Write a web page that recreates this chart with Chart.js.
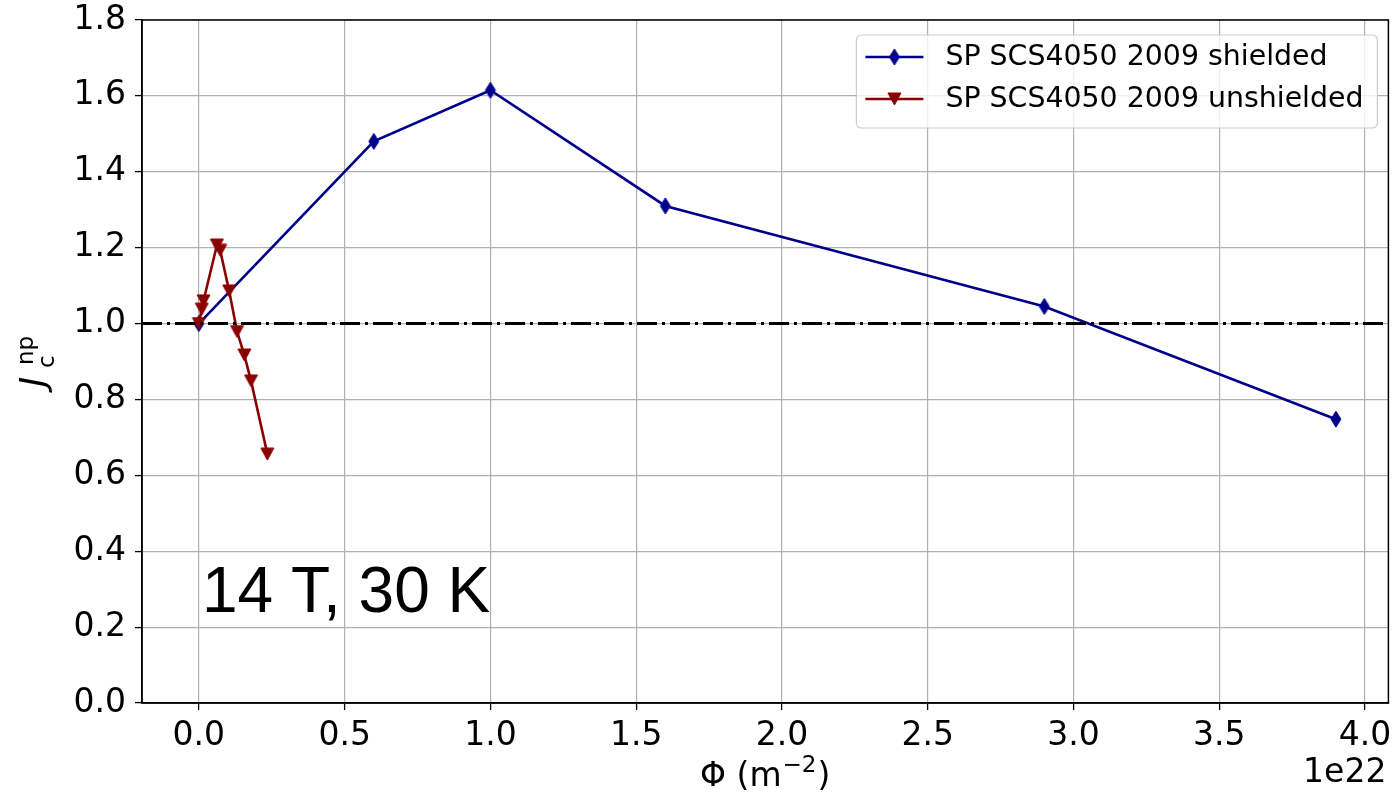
<!DOCTYPE html>
<html lang="en">
<head>
    <meta charset="UTF-8">
    <title>Jc np vs fluence, 14 T, 30 K</title>
    <script src="https://cdn.jsdelivr.net/npm/chart.js"></script>
    <style>
        html, body {
            margin: 0;
            padding: 0;
            background: #fff;
        }
        #wrap {
            width: 1397px;
            height: 800px;
        }
    </style>
</head>
<body>
    <div id="wrap">
        <canvas id="jcChart" width="1397" height="800"></canvas>
    </div>

    <script>
        // fluence in units of 1e22 m^-2, Jc normalised to the unirradiated value
        const shieldedPhi = [0, 0.6, 1.0, 1.6, 2.9, 3.9];
        const shieldedJc = [1.0, 1.48, 1.615, 1.31, 1.045, 0.748];

        const unshieldedPhi = [0, 0.010, 0.016, 0.062, 0.073, 0.104, 0.131, 0.156, 0.179, 0.235];
        const unshieldedJc = [1.0, 1.038, 1.06, 1.207, 1.193, 1.086, 0.979, 0.917, 0.849, 0.656];

        const seriesNames = ['SP SCS4050 2009 shielded', 'SP SCS4050 2009 unshielded'];

        const xTicks = [0, 0.5, 1.0, 1.5, 2.0, 2.5, 3.0, 3.5, 4.0];
        const yTicks = [0, 0.2, 0.4, 0.6, 0.8, 1.0, 1.2, 1.4, 1.6, 1.8];
        const xRange = [-0.195, 4.08];
        const refLevel = 1.0;

        const BLUE = '#00008b';
        const RED = '#8b0000';
        const FONT = "'DejaVu Sans', sans-serif";

        // matplotlib-like marker shapes
        function makeMarker(w, h, color, path) {
            const c = document.createElement('canvas');
            c.width = w;
            c.height = h;
            const g = c.getContext('2d');
            g.fillStyle = color;
            g.strokeStyle = color;
            g.lineWidth = 1;
            g.beginPath();
            path(g, w, h);
            g.closePath();
            g.fill();
            g.stroke();
            return c;
        }

        const thinDiamond = makeMarker(14, 18, BLUE, (g, w, h) => {
            g.moveTo(w / 2, 1);
            g.lineTo(w - 2, h / 2);
            g.lineTo(w / 2, h - 1);
            g.lineTo(2, h / 2);
        });

        const triangleDown = makeMarker(15, 14, RED, (g, w, h) => {
            g.moveTo(1, 1);
            g.lineTo(w - 1, 1);
            g.lineTo(w / 2, h - 1);
        });

        const toPoints = (xs, ys) => xs.map((x, i) => ({ x: x, y: ys[i] }));

        // frame, axis titles, offset text, annotation and legend
        const decorations = {
            id: 'decorations',
            afterDraw(chart) {
                const ctx = chart.ctx;
                const area = chart.chartArea;
                ctx.save();

                ctx.strokeStyle = '#000';
                ctx.lineWidth = 1.5;
                ctx.strokeRect(area.left, area.top, area.right - area.left, area.bottom - area.top);

                ctx.fillStyle = '#000';
                ctx.textBaseline = 'alphabetic';

                // x label: Φ (m^-2)
                const mainFont = '33px ' + FONT;
                const supFont = '23px ' + FONT;
                ctx.font = mainFont;
                const partA = 'Φ (m';
                const partC = ')';
                const wA = ctx.measureText(partA).width;
                const wC = ctx.measureText(partC).width;
                ctx.font = supFont;
                const wB = ctx.measureText('−2').width;
                const total = wA + wB + 2 + wC;
                let x0 = (area.left + area.right) / 2 - total / 2;
                const base = 786;
                ctx.textAlign = 'left';
                ctx.font = mainFont;
                ctx.fillText(partA, x0, base);
                ctx.font = supFont;
                ctx.fillText('−2', x0 + wA + 1, base - 14);
                ctx.font = mainFont;
                ctx.fillText(partC, x0 + wA + wB + 2, base);

                // offset text
                ctx.textAlign = 'right';
                ctx.fillText('1e22', area.right - 2, 782);

                // y label: J_c^np
                ctx.save();
                ctx.translate(45, 387);
                ctx.rotate(-Math.PI / 2);
                ctx.textAlign = 'left';
                ctx.font = 'italic 35px ' + FONT;
                ctx.fillText('J', 0, 0);
                ctx.font = supFont;
                ctx.fillText('c', 19, 9);
                ctx.fillText('np', 22, -12);
                ctx.restore();

                // condition annotation
                ctx.font = "64px 'Liberation Sans', Arial, sans-serif";
                ctx.textAlign = 'left';
                ctx.fillText('14 T, 30 K', 202, 612);

                // legend
                const lx = area.right - 532, ly = area.top + 15, lw = 521, lh = 93;
                ctx.fillStyle = 'rgba(255,255,255,0.8)';
                ctx.strokeStyle = '#cccccc';
                ctx.lineWidth = 1.2;
                ctx.beginPath();
                ctx.roundRect(lx, ly, lw, lh, 5);
                ctx.fill();
                ctx.stroke();

                const rows = [
                    { name: seriesNames[0], color: BLUE, marker: thinDiamond, y: ly + 22 },
                    { name: seriesNames[1], color: RED, marker: triangleDown, y: ly + 64 }
                ];
                rows.forEach(r => {
                    ctx.strokeStyle = r.color;
                    ctx.lineWidth = 2.5;
                    ctx.beginPath();
                    ctx.moveTo(lx + 9, r.y);
                    ctx.lineTo(lx + 67, r.y);
                    ctx.stroke();
                    ctx.drawImage(r.marker, lx + 38 - r.marker.width / 2, r.y - r.marker.height / 2);
                    ctx.fillStyle = '#000';
                    ctx.font = '28.4px ' + FONT;
                    ctx.textBaseline = 'middle';
                    ctx.fillText(r.name, lx + 89, r.y + 1);
                });

                ctx.restore();
            }
        };

        const config = {
            type: 'scatter',
            data: {
                datasets: [
                    {
                        label: 'reference',
                        data: [{ x: xRange[0], y: refLevel }, { x: xRange[1], y: refLevel }],
                        showLine: true,
                        borderColor: '#000',
                        borderWidth: 3,
                        borderDash: [20, 5, 3, 5],
                        pointRadius: 0,
                        order: 0
                    },
                    {
                        label: seriesNames[1],
                        data: toPoints(unshieldedPhi, unshieldedJc),
                        showLine: true,
                        borderColor: RED,
                        borderWidth: 2.6,
                        pointStyle: triangleDown,
                        pointRadius: 6,
                        order: 1
                    },
                    {
                        label: seriesNames[0],
                        data: toPoints(shieldedPhi, shieldedJc),
                        showLine: true,
                        borderColor: BLUE,
                        borderWidth: 2.6,
                        pointStyle: thinDiamond,
                        pointRadius: 6,
                        order: 2
                    }
                ]
            },
            options: {
                responsive: false,
                animation: false,
                devicePixelRatio: 1,
                layout: {
                    padding: { top: 20, right: 8, left: 0, bottom: 0 }
                },
                plugins: {
                    legend: { display: false },
                    tooltip: { enabled: false }
                },
                scales: {
                    x: {
                        type: 'linear',
                        min: xRange[0],
                        max: xRange[1],
                        afterBuildTicks: scale => {
                            scale.ticks = xTicks.map(v => ({ value: v }));
                        },
                        afterFit: scale => {
                            scale.height = 97;
                            scale.paddingLeft = 0;
                            scale.paddingRight = 0;
                        },
                        ticks: {
                            color: '#000',
                            padding: 7,
                            maxRotation: 0,
                            font: { family: FONT, size: 33 },
                            callback: v => v.toFixed(1)
                        },
                        grid: {
                            color: '#b0b0b0',
                            lineWidth: 1.2,
                            tickColor: '#000',
                            tickLength: 7,
                            tickWidth: 1.3
                        },
                        border: { color: '#000', width: 1.5 }
                    },
                    y: {
                        type: 'linear',
                        min: 0,
                        max: 1.8,
                        afterBuildTicks: scale => {
                            scale.ticks = yTicks.map(v => ({ value: v }));
                        },
                        afterFit: scale => {
                            scale.width = 142;
                            scale.paddingTop = 0;
                            scale.paddingBottom = 0;
                        },
                        ticks: {
                            color: '#000',
                            padding: 9,
                            font: { family: FONT, size: 33 },
                            callback: v => v.toFixed(1)
                        },
                        grid: {
                            color: '#b0b0b0',
                            lineWidth: 1.2,
                            tickColor: '#000',
                            tickLength: 7,
                            tickWidth: 1.3
                        },
                        border: { color: '#000', width: 1.5 }
                    }
                }
            },
            plugins: [decorations]
        };

        new Chart(document.getElementById('jcChart').getContext('2d'), config);
    </script>
</body>
</html>
